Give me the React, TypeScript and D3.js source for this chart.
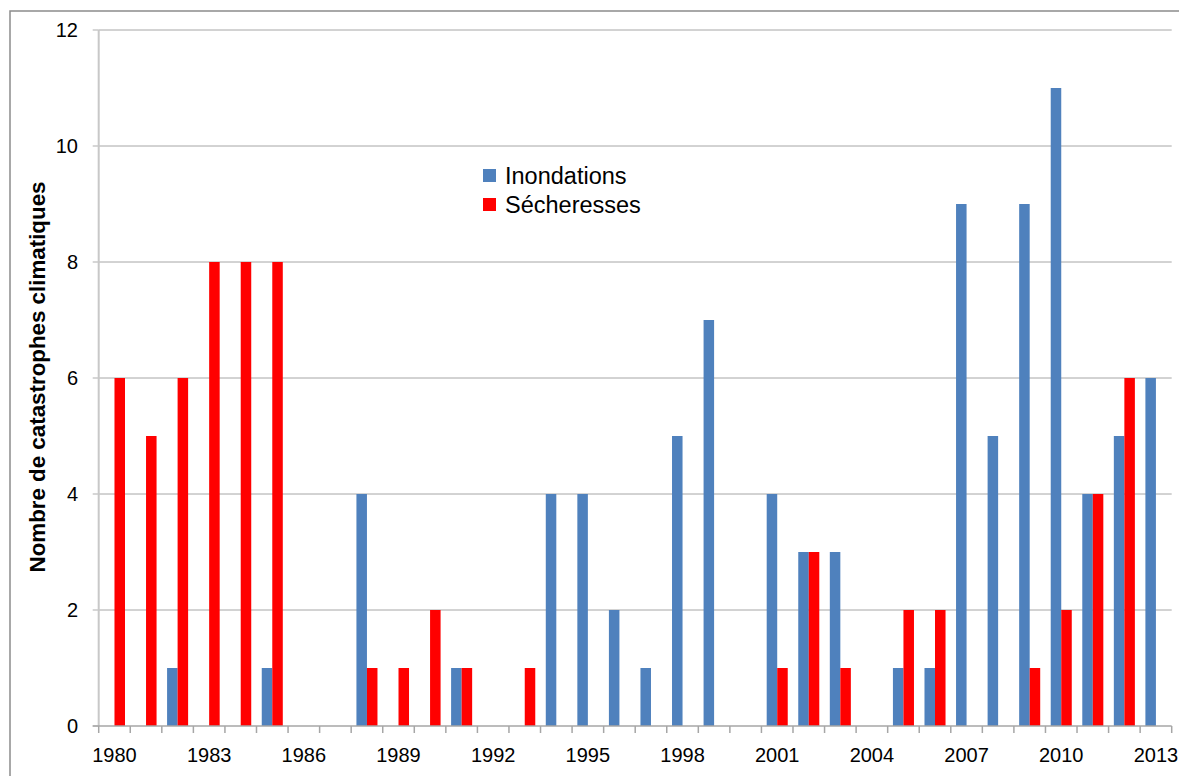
import React from "react";
import * as d3 from "d3";

const years: number[] = d3.range(1980, 2014);
const inondations: number[] = [0, 0, 1, 0, 0, 1, 0, 0, 4, 0, 0, 1, 0, 0, 4, 4, 2, 1, 5, 7, 0, 4, 3, 3, 0, 1, 1, 9, 5, 9, 11, 4, 5, 6];
const secheresses: number[] = [6, 5, 6, 8, 8, 8, 0, 0, 1, 1, 2, 1, 0, 1, 0, 0, 0, 0, 0, 0, 0, 1, 3, 1, 0, 2, 2, 0, 0, 1, 2, 4, 6, 0];
const yTicks: number[] = [0, 2, 4, 6, 8, 10, 12];
const xLabelYears: number[] = years.filter((y) => (y - 1980) % 3 === 0);
const seriesNames = ["Inondations", "Sécheresses"];
const seriesColors = ["#4F81BD", "#FF0000"];

const W = 1179;
const H = 776;
const left = 98.7;
const right = 1171.7;
const top = 30;
const bottom = 726;
const font = "'Liberation Sans', Arial, sans-serif";

export default function App() {
  const x = d3.scaleBand<number>().domain(years).range([left, right]).paddingInner(0.3333).paddingOuter(0.1667);
  const band = (right - left) / years.length;
  const y = d3.scaleLinear().domain([0, 12]).range([bottom, top]);
  const bw = x.bandwidth() / 2;
  const series = [inondations, secheresses];

  return (
    <svg width={W} height={H} style={{ position: "fixed", left: 0, top: 0, background: "#fff" }}>
      <rect x={0} y={0} width={W} height={H} fill="#fff" />
      <rect x={10} y={11} width={W + 20} height={H + 20} fill="none" stroke="#8c8c8c" strokeWidth={1.5} />
      {/* gridlines */}
      {yTicks.filter((t) => t > 0).map((t) => (
        <line key={t} x1={left} x2={right} y1={y(t)} y2={y(t)} stroke="#a6a6a6" strokeWidth={1} />
      ))}
      {/* y axis */}
      <line x1={left} x2={left} y1={top} y2={bottom} stroke="#c8c8c8" strokeWidth={2} />
      {yTicks.map((t) => (
        <g key={t}>
          <line x1={left - 6} x2={left} y1={y(t)} y2={y(t)} stroke="#c8c8c8" strokeWidth={1.5} />
          <text x={78} y={y(t)} dy="0.36em" textAnchor="end" fontFamily={font} fontSize={20} fill="#000">
            {t}
          </text>
        </g>
      ))}
      {/* bars */}
      {series.map((vals, si) =>
        vals.map((v, i) =>
          v > 0 ? (
            <rect
              key={`${si}-${i}`}
              x={(x(years[i]) as number) + si * bw}
              y={y(v)}
              width={bw}
              height={y(0) - y(v)}
              fill={seriesColors[si]}
            />
          ) : null
        )
      )}
      {/* x axis */}
      <line x1={left - 6} x2={right} y1={bottom} y2={bottom} stroke="#a6a6a6" strokeWidth={1.5} />
      {d3.range(years.length + 1).map((i) => (
        <line key={i} x1={left + i * band} x2={left + i * band} y1={bottom} y2={bottom + 7} stroke="#a6a6a6" strokeWidth={1.5} />
      ))}
      {xLabelYears.map((yr) => (
        <text key={yr} x={(x(yr) as number) + x.bandwidth() / 2} y={762} textAnchor="middle" fontFamily={font} fontSize={20} fill="#000">
          {yr}
        </text>
      ))}
      {/* y label */}
      <text
        transform="translate(45,377) rotate(-90)"
        textAnchor="middle"
        fontFamily={font}
        fontWeight="bold"
        fontSize={22.5}
        textLength={391}
        lengthAdjust="spacingAndGlyphs"
        fill="#000"
      >
        Nombre de catastrophes climatiques
      </text>
      {/* legend */}
      {seriesNames.map((n, i) => (
        <g key={n}>
          <rect x={483} y={169 + i * 29} width={13} height={13} fill={seriesColors[i]} />
          <text x={505} y={184 + i * 29} fontFamily={font} fontSize={23.5} fill="#000">
            {n}
          </text>
        </g>
      ))}
    </svg>
  );
}
